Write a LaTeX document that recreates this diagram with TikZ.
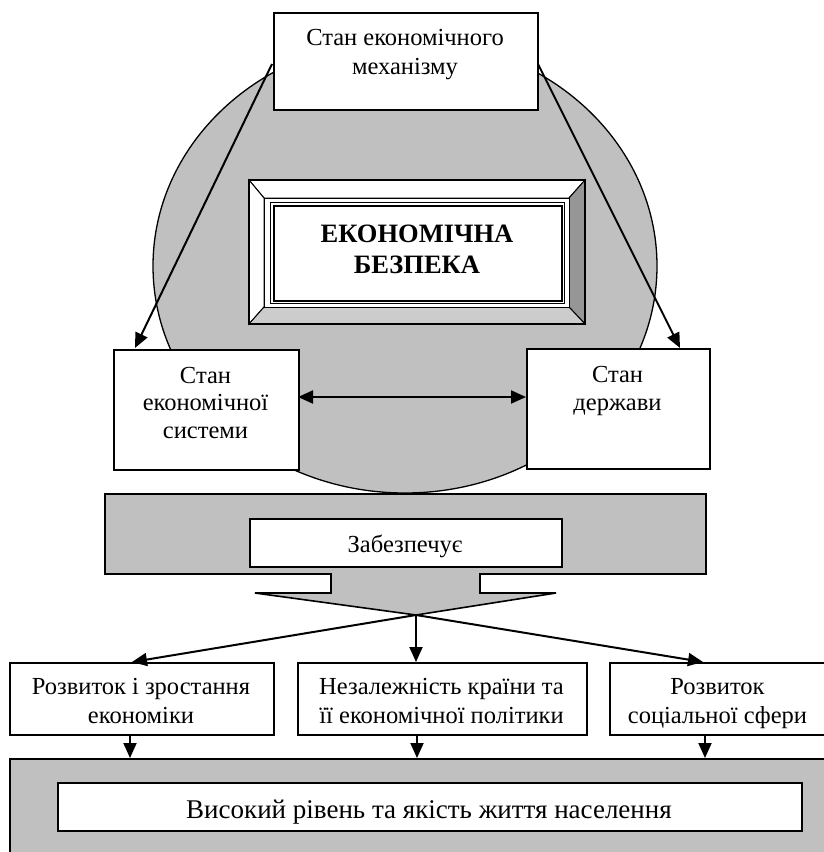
\documentclass[tikz,border=0pt]{standalone}
\usepackage{fontspec}
\setmainfont{Liberation Serif}
\usetikzlibrary{arrows.meta}
\definecolor{silverg}{RGB}{192,192,192}
\definecolor{bevdark}{RGB}{150,150,150}
\definecolor{bevlight}{RGB}{204,204,204}
\begin{document}
\begin{tikzpicture}[x=1pt,y=-1pt,
  box/.style={draw, line width=2pt, fill=white, inner sep=0pt, anchor=north west},
  txt/.style={font=\fontsize{24.5}{28.5}\selectfont, align=center, inner sep=0pt, anchor=base},
  bigtxt/.style={font=\fontsize{27}{31}\selectfont, align=center, inner sep=0pt, anchor=base},
  boldtxt/.style={font=\fontsize{26.5}{31}\selectfont\bfseries, align=center, inner sep=0pt, anchor=base},
  arr/.style={line width=2pt, -{Triangle[length=15pt,width=13pt]}},
  bevel/.style={draw, line width=1pt, line join=miter},
]
\useasboundingbox (0,0) rectangle (823,852);

% big ellipse
\draw[fill=silverg, line width=1.3pt] (405,266) ellipse [x radius=252, y radius=227];

% connectors from the top box
\coordinate (mlS) at (272,64);
\coordinate (mrS) at (538,64);
\coordinate (sysT) at (135,348);
\coordinate (stT) at (680,348);
\draw[arr] (mlS) -- (sysT);
\draw[arr] (mrS) -- (stT);

% top box
\node[box, minimum width=264pt, minimum height=97pt] (mech) at (273,12) {};
\node[txt, font=\fontsize{24.5}{29}\selectfont] (mechT) at (405,74) {Стан економічного\\механізму};

% bevelled frame
\coordinate (Otl) at (249,180); \coordinate (Otr) at (585,180);
\coordinate (Obr) at (585,324); \coordinate (Obl) at (249,324);
\coordinate (Itl) at (264,198); \coordinate (Itr) at (569,198);
\coordinate (Ibr) at (569,307); \coordinate (Ibl) at (264,307);
\path[bevel, fill=white] (Otl) -- (Otr) -- (Itr) -- (Itl) -- cycle;
\path[bevel, fill=white] (Otl) -- (Itl) -- (Ibl) -- (Obl) -- cycle;
\path[bevel, fill=bevdark] (Otr) -- (Obr) -- (Ibr) -- (Itr) -- cycle;
\path[bevel, fill=bevlight] (Obl) -- (Ibl) -- (Ibr) -- (Obr) -- cycle;
\path[bevel, fill=white] (Itl) rectangle (Ibr);
\draw[line width=2pt] (Otl) rectangle (Obr);
\draw[line width=1pt] (270,202) rectangle (564,303);
\node[draw, line width=2pt, inner sep=0pt, minimum width=288pt, minimum height=95pt, anchor=north west] (core) at (273,205) {};
\node[boldtxt] (coreT) at (417,273) {ЕКОНОМІЧНА\\БЕЗПЕКА};

% middle boxes
\node[box, minimum width=185pt, minimum height=120pt] (sys) at (113,349) {};
\node[txt, font=\fontsize{24.5}{27.5}\selectfont] (sysL) at (205.5,438) {Стан\\економічної\\системи};
\node[box, minimum width=183pt, minimum height=120pt] (st) at (526,348) {};
\node[txt, font=\fontsize{24.5}{28}\selectfont] (stL) at (617.5,410) {Стан\\держави};
\coordinate (dA) at (298,397);
\coordinate (dB) at (526,397);
\draw[line width=2pt, {Triangle[length=15pt,width=13pt]}-{Triangle[length=15pt,width=13pt]}] (dA) -- (dB);

% broad arrow "Забезпечує"
\coordinate (btip) at (416,615);
\draw[fill=silverg, line width=1.6pt, line join=miter]
  (105,494) -- (706,494) -- (706,574) -- (480,574) -- (480,593) -- (556,593)
  -- (btip) -- (255,593) -- (331,593) -- (331,574) -- (105,574) -- cycle;
\node[box, minimum width=312pt, minimum height=48pt] (zab) at (249,518) {};
\node[txt] (zabT) at (405,552) {Забезпечує};

% result boxes
\node[box, minimum width=264pt, minimum height=72pt] (r1) at (9,662) {};
\node[box, minimum width=289pt, minimum height=72pt] (r2) at (297,662) {};
\node[box, minimum width=218pt, minimum height=72pt] (r3) at (609,662) {};
\node[txt] (r1T) at (141,723) {Розвиток і зростання\\економіки};
\node[txt] (r2T) at (441.5,723) {Незалежність країни та\\її економічної політики};
\node[txt] (r3T) at (717.5,723) {Розвиток\\соціальної сфери};

\coordinate (r1top) at (132,662);
\coordinate (r2top) at (416,662);
\coordinate (r3top) at (703,662);
\draw[arr] (btip) -- (r1top);
\draw[arr] (btip) -- (r2top);
\draw[arr] (btip) -- (r3top);

% bottom block
\node[draw, fill=silverg, line width=2pt, inner sep=0pt, minimum width=840pt, minimum height=120pt, anchor=north west] (base) at (9,758) {};
\node[box, minimum width=744pt, minimum height=48pt] (life) at (57,782) {};
\node[bigtxt] (lifeT) at (429,818) {Високий рівень та якість життя населення};

\coordinate (b1) at (130,758);
\coordinate (b2) at (417,758);
\coordinate (b3) at (705,758);
\draw[arr] (r1.south -| b1) -- (b1);
\draw[arr] (r2.south -| b2) -- (b2);
\draw[arr] (r3.south -| b3) -- (b3);
\end{tikzpicture}
\end{document}
